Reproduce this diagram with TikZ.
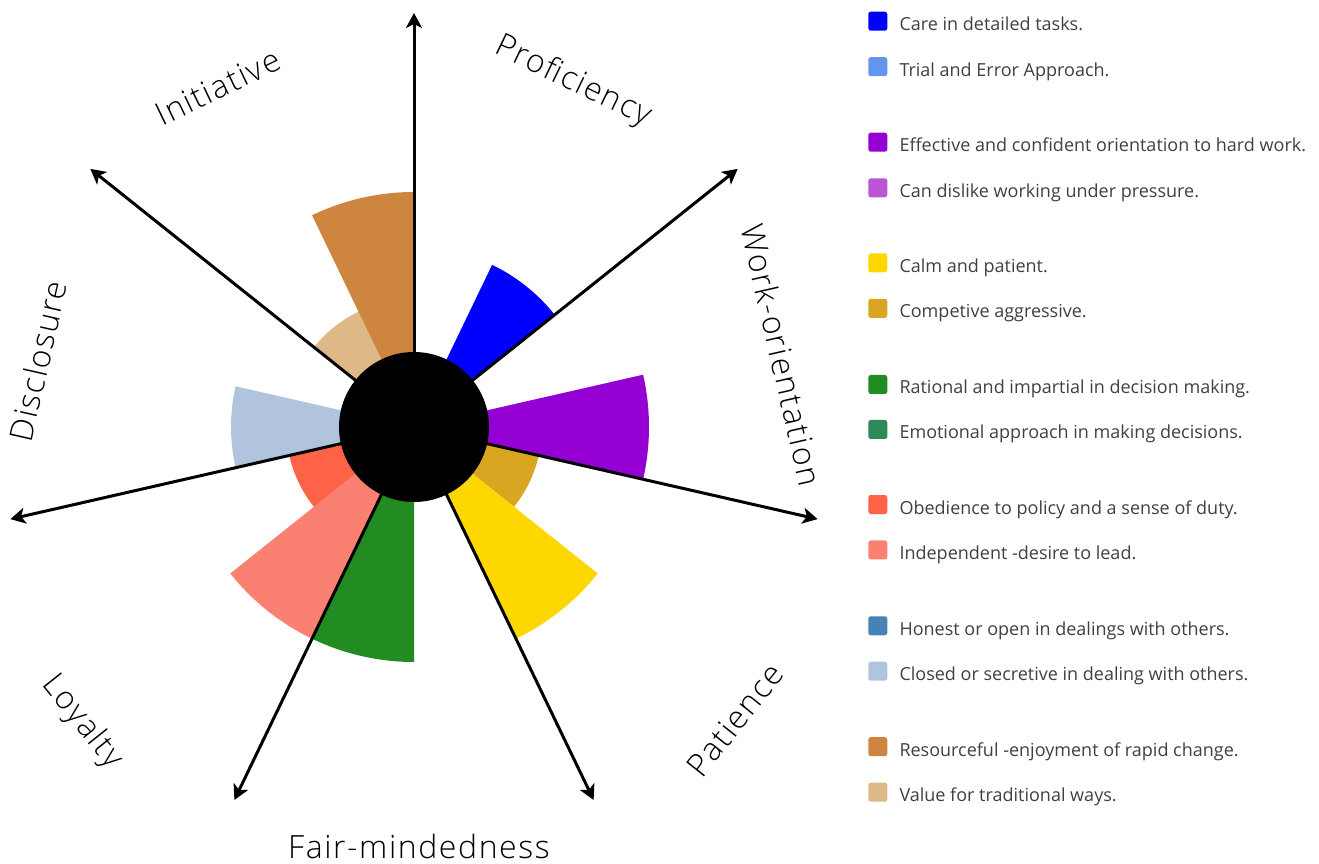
\documentclass[tikz,border=0pt]{standalone}
\usepackage{fontspec}
\setmainfont{Open Sans}
\newfontfamily\lightfont{Open Sans Light}[LetterSpace=5]
\usetikzlibrary{arrows.meta,calc}
\definecolor{cBlue}{HTML}{0000FF}
\definecolor{cCorn}{HTML}{6495ED}
\definecolor{cViolet}{HTML}{9400D3}
\definecolor{cOrchid}{HTML}{BA55D3}
\definecolor{cGold}{HTML}{FFD700}
\definecolor{cGoldenrod}{HTML}{DAA520}
\definecolor{cForest}{HTML}{228B22}
\definecolor{cSea}{HTML}{2E8B57}
\definecolor{cTomato}{HTML}{FF6347}
\definecolor{cSalmon}{HTML}{FA8072}
\definecolor{cSteel}{HTML}{4682B4}
\definecolor{cLSteel}{HTML}{B0C4DE}
\definecolor{cPeru}{HTML}{CD853F}
\definecolor{cBurly}{HTML}{DEB887}
\definecolor{legendgray}{HTML}{404040}
\newcommand\mysector[4]{%
  \fill[#1] (C) -- ($(C)+(#2:#4pt)$) arc[start angle=#2, end angle=#3, radius=#4pt] -- cycle;}
\begin{document}
\begin{tikzpicture}[x=1pt,y=1pt,
  arr/.style={line width=3pt, -{Stealth[length=15pt,width=16pt,inset=4pt]}},
  axislab/.style={font=\lightfont\fontsize{32}{38}\selectfont, inner sep=0pt, text=black},
  legsq/.style={rounded corners=2.5pt, minimum size=19pt, inner sep=0pt},
  legtxt/.style={font=\fontsize{18}{21}\selectfont, text=legendgray, anchor=base west, inner sep=0pt}]
\useasboundingbox (0,0) rectangle (1319,863);
\coordinate (C) at (414,436);
% sectors
\mysector{cBlue}{38.571}{64.286}{180}
\mysector{cViolet}{-12.857}{12.857}{235}
\mysector{cGoldenrod}{-38.571}{-12.857}{128}
\mysector{cGold}{-64.286}{-38.571}{235}
\mysector{cForest}{-115.714}{-90}{235}
\mysector{cSalmon}{-141.429}{-115.714}{235}
\mysector{cTomato}{-167.143}{-141.429}{128}
\mysector{cLSteel}{167.143}{192.857}{183}
\mysector{cBurly}{115.714}{141.429}{128}
\mysector{cPeru}{90}{115.714}{235}
% axes
\foreach \i/\a in {1/90,2/38.571,3/-12.857,4/-64.286,5/-115.714,6/-167.143,7/141.429}{
  \coordinate (e\i) at ($(C)+(\a:414pt)$);
  \draw[arr] (C) -- (e\i);
}
\fill[black] (C) circle[radius=75pt];
% axis labels
\node[axislab, rotate=-25.71] (lProf) at (573,781) {Proficiency};
\node[axislab, rotate=25.71] (lInit) at (218,776) {Initiative};
\node[axislab, rotate=-77.14] (lWork) at (782,508) {Work-orientation};
\node[axislab, rotate=77.14] (lDisc) at (38,502) {Disclosure};
\node[axislab, rotate=51.43] (lPat) at (735,143) {Patience};
\node[axislab, rotate=-51.43] (lLoy) at (82,141) {Loyalty};
\node[axislab] (lFair) at (419,17) {Fair-mindedness};
% legend
\foreach \n/\c/\y/\t in {
  1/cBlue/841.8/{Care in detailed tasks.},
  2/cCorn/796.3/{Trial and Error Approach.},
  3/cViolet/720.8/{Effective and confident orientation to hard work.},
  4/cOrchid/675.2/{Can dislike working under pressure.},
  5/cGold/600.2/{Calm and patient.},
  6/cGoldenrod/554.7/{Competive aggressive.},
  7/cForest/478.5/{Rational and impartial in decision making.},
  8/cSea/433.5/{Emotional approach in making decisions.},
  9/cTomato/358.5/{Obedience to policy and a sense of duty.},
  10/cSalmon/313.1/{Independent -desire to lead.},
  11/cSteel/237.2/{Honest or open in dealings with others.},
  12/cLSteel/191.8/{Closed or secretive in dealing with others.},
  13/cPeru/116.3/{Resourceful -enjoyment of rapid change.},
  14/cBurly/70.8/{Value for traditional ways.}}{
  \node[legsq, fill=\c] (sq\n) at (877.8,\y) {};
  \node[legtxt] (tx\n) at (899.3,\y-9.5) {\t};
}
\end{tikzpicture}
\end{document}
